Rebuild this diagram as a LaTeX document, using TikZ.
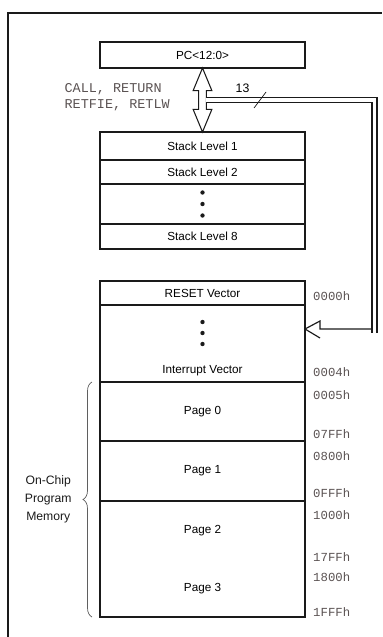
\documentclass[tikz,border=0pt]{standalone}
\usepackage{fontspec}
\setmainfont{Liberation Sans}
\setmonofont{Liberation Mono}
\usetikzlibrary{positioning, shapes.arrows, calc, decorations.pathreplacing}
\definecolor{ink}{HTML}{1a1a1a}
\definecolor{addr}{HTML}{5a5252}

\begin{document}
\begin{tikzpicture}[
  font=\fontsize{10}{12}\selectfont,
  cell/.style={draw=ink, line width=1pt, minimum width=6.15cm, inner sep=0pt, outer sep=0pt},
  bare/.style={minimum width=6.15cm, inner sep=0pt, outer sep=0pt},
  addrlbl/.style={anchor=west, inner sep=0pt, text=addr, font=\ttfamily\fontsize{10.5}{12}\selectfont},
  bidir/.style={double arrow, draw=ink, line width=0.9pt, rotate=90, minimum height=1.92cm,
                double arrow head extend=0.165cm, double arrow tip angle=45, inner sep=0.1cm, outer sep=0pt},
  bus/.style={draw=ink, line width=1pt, double, double distance=0.115cm}
]
  \useasboundingbox (0,0) rectangle (11.46,-19.11);
  % frame
  \draw[ink, line width=1pt] (0.24,-19.11) |- (11.46,-0.39);

  % PC and stack
  \node[cell, minimum height=0.78cm] (pc) at (6.075,-1.65) {PC<12:0>};
  \node[cell, minimum height=0.84cm, anchor=north] (st1) at (6.075,-3.96) {Stack Level 1};
  \node[cell, minimum height=0.72cm, below=0pt of st1] (st2) {Stack Level 2};
  \node[cell, minimum height=1.2cm, below=0pt of st2] (stdots) {};
  \node[cell, minimum height=0.75cm, below=0pt of stdots] (st8) {Stack Level 8};
  \fill[ink] ([yshift=0.345cm]stdots.center) circle (0.065);
  \fill[ink] (stdots.center) circle (0.065);
  \fill[ink] ([yshift=-0.345cm]stdots.center) circle (0.065);

  % program memory
  \node[cell, minimum height=0.72cm, anchor=north] (reset) at (6.075,-8.43) {RESET Vector};
  \node[cell, minimum height=2.31cm, below=0pt of reset] (ivec) {};
  \node[cell, minimum height=1.77cm, below=0pt of ivec] (p0) {Page 0};
  \node[cell, minimum height=1.8cm, below=0pt of p0] (p1) {Page 1};
  \node[bare, minimum height=1.8cm, below=0pt of p1] (p2) {Page 2};
  \node[bare, minimum height=1.68cm, below=0pt of p2] (p3) {Page 3};
  \draw[ink, line width=1pt] (p2.north west) rectangle (p3.south east);
  \node[inner sep=0pt] (ivtxt) at ([yshift=0.33cm]ivec.south) {Interrupt Vector};
  \fill[ink] ([yshift=-0.51cm]ivec.north) circle (0.065);
  \fill[ink] ([yshift=-0.84cm]ivec.north) circle (0.065);
  \fill[ink] ([yshift=-1.17cm]ivec.north) circle (0.065);

  % addresses
  \node[addrlbl] (a0000) at ([xshift=0.24cm, yshift=-0.09cm]reset.east) {0000h};
  \node[addrlbl] (a0004) at ([xshift=0.24cm, yshift=0.3cm]ivec.south east) {0004h};
  \node[addrlbl] (a0005) at ([xshift=0.24cm, yshift=-0.39cm]p0.north east) {0005h};
  \node[addrlbl] (a07ff) at ([xshift=0.24cm, yshift=0.21cm]p0.south east) {07FFh};
  \node[addrlbl] (a0800) at ([xshift=0.24cm, yshift=-0.45cm]p1.north east) {0800h};
  \node[addrlbl] (a0fff) at ([xshift=0.24cm, yshift=0.24cm]p1.south east) {0FFFh};
  \node[addrlbl] (a1000) at ([xshift=0.24cm, yshift=-0.42cm]p2.north east) {1000h};
  \node[addrlbl] (a17ff) at ([xshift=0.24cm, yshift=0.12cm]p2.south east) {17FFh};
  \node[addrlbl] (a1800) at ([xshift=0.24cm, yshift=-0.48cm]p3.north east) {1800h};
  \node[addrlbl] (a1fff) at ([xshift=0.24cm, yshift=0.15cm]p3.south east) {1FFFh};

  % brace
  \draw[ink!70, line width=0.6pt, decorate, decoration={brace, amplitude=0.27cm}]
    ([xshift=-0.24cm]p3.south west) -- ([xshift=-0.24cm]p0.north west)
    node[midway, left=0.6cm, inner sep=0pt, align=center, text=ink, font=\fontsize{10.4}{15.5}\selectfont] (memlbl) {On-Chip\\Program\\Memory};

  % PC <-> stack, and the 13-bit bus
  \node[bidir] (bidir) at ($(pc.south)!0.5!(st1.north)$) {};
  \coordinate (vtip) at ([yshift=-0.72cm]ivec.north east);
  \coordinate (vbase) at ($(vtip)+(0.45,0)$);
  \coordinate (bcorner) at ($(vbase)+(1.635,-0.12)$);
  \coordinate (icorner) at ($(vbase)+(1.56,0)$);
  \draw[bus] ($(bidir.center)+(0.1,0)$) -| (bcorner);
  \draw[ink, line width=1pt] (icorner) -- (vbase) -- ([yshift=0.24cm]vbase) -- (vtip) -- ([yshift=-0.27cm]vbase);
  \draw[ink, line width=0.6pt] ([shift={(1.545,-0.24)}]bidir.center) -- ++(0.36,0.48);
  \node[inner sep=0pt, font=\fontsize{10.5}{12}\selectfont] (width) at ([shift={(1.2,0.36)}]bidir.center) {13};
  \node[anchor=east, align=left, inner sep=0pt, text=addr, font=\ttfamily\fontsize{11.5}{13.6}\selectfont]
    (cmds) at ([shift={(-0.975,0.09)}]bidir.center) {CALL, RETURN\\RETFIE, RETLW};
\end{tikzpicture}
\end{document}
